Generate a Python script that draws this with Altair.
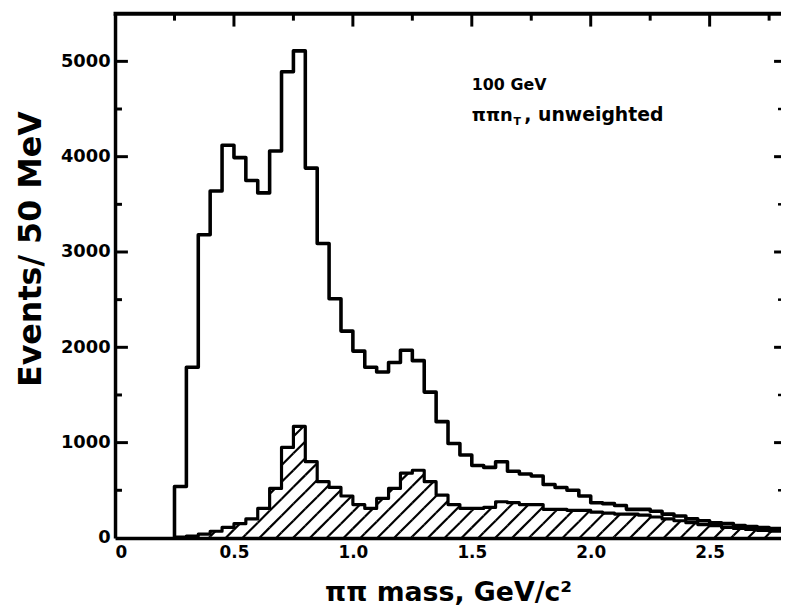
import altair as alt
import pandas as pd
import numpy as np

# ---- data (bins of 50 MeV, lower edges in GeV) ----
bin_lo = [0.25, 0.30, 0.35, 0.40, 0.45, 0.50, 0.55, 0.60, 0.65, 0.70,
          0.75, 0.80, 0.85, 0.90, 0.95, 1.00, 1.05, 1.10, 1.15, 1.20,
          1.25, 1.30, 1.35, 1.40, 1.45, 1.50, 1.55, 1.60, 1.65, 1.70,
          1.75, 1.80, 1.85, 1.90, 1.95, 2.00, 2.05, 2.10, 2.15, 2.20,
          2.25, 2.30, 2.35, 2.40, 2.45, 2.50, 2.55, 2.60, 2.65, 2.70,
          2.75]
x_last_edge = 2.80

total = [540, 1790, 3180, 3640, 4120, 3990, 3750, 3620, 4060, 4890,
         5110, 3880, 3090, 2510, 2170, 1960, 1790, 1740, 1840, 1970,
         1860, 1530, 1220, 990, 870, 760, 740, 800, 700, 670,
         650, 560, 530, 500, 440, 370, 360, 340, 300, 300,
         280, 250, 230, 200, 180, 160, 150, 130, 120, 110,
         100]

hatched = [10, 20, 40, 70, 110, 150, 200, 310, 520, 950,
           1170, 800, 590, 530, 440, 350, 310, 415, 520, 680,
           710, 590, 450, 350, 310, 310, 320, 380, 370, 350,
           350, 300, 300, 290, 290, 270, 260, 250, 250, 240,
           220, 200, 180, 160, 140, 130, 110, 100, 90, 80,
           70]

x_label_values = [0, 0.5, 1.0, 1.5, 2.0, 2.5]
y_label_values = [0, 1000, 2000, 3000, 4000, 5000]
y_minor_values = [500, 1500, 2500, 3500, 4500]
x_top_major = [0.5, 1.0, 1.5, 2.0, 2.5]
x_top_minor = [0.25, 0.75, 1.25, 1.75, 2.25, 2.75]

# ---- layout ----
W, H = 672, 529
XMAX, YMAX = 2.8, 5500
FONT = "DejaVu Sans"

xscale = alt.Scale(domain=[0, XMAX], nice=False, zero=False)
yscale = alt.Scale(domain=[0, YMAX], nice=False)


def step_frame(vals):
    rows = [{"x": bin_lo[0], "y": 0, "o": 0}]
    for i, (x, v) in enumerate(zip(bin_lo, vals)):
        rows.append({"x": x, "y": v, "o": i + 1})
    rows.append({"x": x_last_edge, "y": vals[-1], "o": len(vals) + 1})
    return pd.DataFrame(rows)


df_total = step_frame(total)
df_hatch = step_frame(hatched)

# hatch segments clipped to the shaded histogram (45 degrees on screen)
px_per_x = W / XMAX
px_per_y = H / YMAX
slope = px_per_x / px_per_y
spacing = 17 / px_per_x
phase = 0.04
edges = list(bin_lo) + [x_last_edge]
segs = []
x0 = phase - 20 * spacing
while x0 < XMAX:
    for i, h in enumerate(hatched):
        a, b = edges[i], edges[i + 1]
        xs = max(a, x0)
        xe = min(b, x0 + h / slope, XMAX)
        if xe > xs:
            segs.append({"x": xs, "y": slope * (xs - x0),
                         "x2": xe, "y2": slope * (xe - x0)})
    x0 += spacing
df_segs = pd.DataFrame(segs)

x_axis = alt.Axis(values=x_label_values,
                  labelExpr="datum.value == 0 ? '0' : format(datum.value, '.1f')",
                  ticks=False, grid=False, domainWidth=3.5, domainColor="black",
                  labelFont=FONT, labelFontSize=17, labelFontWeight="bold",
                  labelColor="black", labelPadding=7,
                  title="ππ mass, GeV/c²", titleFont=FONT, titleFontSize=27,
                  titleFontWeight="bold", titleColor="black", titlePadding=19)
y_axis = alt.Axis(values=y_label_values, format="d", ticks=False, grid=False,
                  domainWidth=3.5, domainColor="black",
                  labelFont=FONT, labelFontSize=18, labelFontWeight="bold",
                  labelColor="black", labelPadding=5,
                  title="Events/ 50 MeV", titleFont=FONT, titleFontSize=32,
                  titleFontWeight="bold", titleColor="black",
                  titleAngle=270, titleX=-85, titleY=237, titleBaseline="middle",
                  titleAlign="center")

X = lambda: alt.X("x:Q", scale=xscale, axis=x_axis)
Y = lambda: alt.Y("y:Q", scale=yscale, axis=y_axis)

hatch = alt.Chart(df_segs).mark_rule(color="black", strokeWidth=2.2, clip=True).encode(
    x=X(), y=Y(), x2="x2:Q", y2="y2:Q")

hatch_line = alt.Chart(df_hatch).mark_line(
    interpolate="step-after", color="black", strokeWidth=3.2, clip=True,
    strokeJoin="round").encode(x=X(), y=Y(), order="o:Q")

total_line = alt.Chart(df_total).mark_line(
    interpolate="step-after", color="black", strokeWidth=3.6, clip=True,
    strokeJoin="round").encode(x=X(), y=Y(), order="o:Q")

# frame pieces and inward ticks
df_one = pd.DataFrame({"d": [0]})
top_spine = alt.Chart(df_one).mark_rule(color="black", strokeWidth=4).encode(
    x=alt.value(-1.5), x2=alt.value(W), y=alt.value(0))

left_major = alt.Chart(pd.DataFrame({"y": y_label_values[1:]})).mark_rule(
    color="black", strokeWidth=3).encode(x=alt.value(0), x2=alt.value(13), y=Y())
left_minor = alt.Chart(pd.DataFrame({"y": y_minor_values})).mark_rule(
    color="black", strokeWidth=3).encode(x=alt.value(0), x2=alt.value(7), y=Y())
right_major = alt.Chart(pd.DataFrame({"y": y_label_values[1:]})).mark_rule(
    color="black", strokeWidth=3).encode(x=alt.value(W - 7), x2=alt.value(W), y=Y())
right_minor = alt.Chart(pd.DataFrame({"y": y_minor_values})).mark_rule(
    color="black", strokeWidth=2.5).encode(x=alt.value(W - 3), x2=alt.value(W), y=Y())
top_major = alt.Chart(pd.DataFrame({"x": x_top_major})).mark_rule(
    color="black", strokeWidth=3).encode(x=X(), y=alt.value(0), y2=alt.value(13))
top_minor = alt.Chart(pd.DataFrame({"x": x_top_minor})).mark_rule(
    color="black", strokeWidth=3).encode(x=X(), y=alt.value(0), y2=alt.value(7))

# annotation
ann_font = dict(font=FONT, fontWeight="bold", color="black", align="left",
                baseline="alphabetic")
t1 = alt.Chart(df_one).mark_text(fontSize=16, **ann_font).encode(
    x=alt.value(360), y=alt.value(77), text=alt.value("100 GeV"))
t2 = alt.Chart(df_one).mark_text(fontSize=18, **ann_font).encode(
    x=alt.value(360), y=alt.value(108), text=alt.value("ππn"))
t3 = alt.Chart(df_one).mark_text(fontSize=11, **ann_font).encode(
    x=alt.value(402), y=alt.value(112), text=alt.value("T"))
t4 = alt.Chart(df_one).mark_text(fontSize=19, **ann_font).encode(
    x=alt.value(413), y=alt.value(108), text=alt.value(", unweighted"))

chart = alt.layer(
    total_line, hatch, hatch_line, top_spine,
    left_major, left_minor, right_major, right_minor, top_major, top_minor,
    t1, t2, t3, t4,
).properties(
    width=W, height=H,
    autosize=alt.AutoSizeParams(type="none"),
    padding={"left": 108, "top": 3, "right": 0, "bottom": 74},
    background="white",
).configure_view(stroke=None)

chart.save("out.html", embed_options={"renderer": "svg", "actions": False})
